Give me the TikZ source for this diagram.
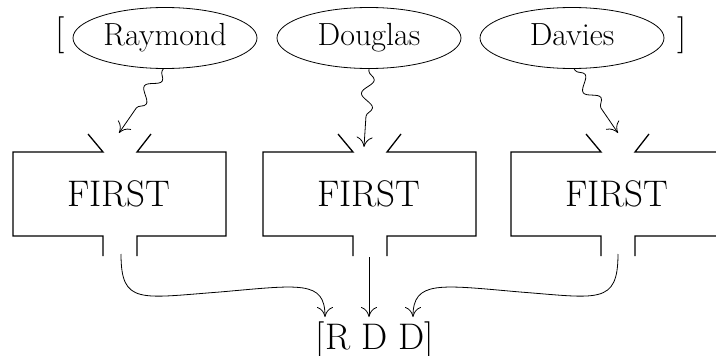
\documentclass[tikz,border=0pt]{standalone}
\usetikzlibrary{decorations.pathmorphing,arrows.meta,shapes.geometric}
\begin{document}
\begin{tikzpicture}[x=1pt,y=-1pt,
  ell/.style={draw,ellipse,line width=0.8pt,minimum width=184pt,minimum height=61pt,inner sep=0pt,
    text height=15pt,text depth=0pt,font=\fontsize{32}{36}\selectfont},
  big/.style={font=\fontsize{37}{42}\selectfont,inner sep=0pt},
  boxline/.style={line width=1.3pt,line join=miter},
  arr/.style={line width=0.8pt,-{To[length=10pt,width=16pt]}},
  snk/.style={arr,decorate,decoration={snake,segment length=28pt,amplitude=6pt,pre length=2pt,post length=20pt}}]
\useasboundingbox (0,0) rectangle (716,356);
% input names
\node[ell] (ray) at (165,38) {Raymond};
\node[ell] (dou) at (369,38) {Douglas};
\node[ell] (dav) at (572,38) {Davies};
\node[big,anchor=base] (lb) at (60,44) {[};
\node[big,anchor=base] (rb) at (682,44) {]};
% boxes
\foreach \c/\n in {120/b1,370/b2,618/b3}{
  \draw[boxline] (\c-32,134) -- (\c-17,152) -- (\c-107,152) -- (\c-107,236) -- (\c-17,236) -- (\c-17,256);
  \draw[boxline] (\c+31,134) -- (\c+17,152) -- (\c+106,152) -- (\c+106,236) -- (\c+17,236) -- (\c+17,256);
  \node[big,anchor=base] (\n) at (\c-1,206) {FIRST};
}
\coordinate (in1) at (119,133);
\coordinate (in2) at (364,147);
\coordinate (in3) at (618,133);
\coordinate (out1) at (121,254);
\coordinate (out2) at (369,257);
\coordinate (out3) at (618,254);
% output
\node[big,anchor=base] (res) at (375,349) {[R D D]};
\coordinate (t1) at (325,317);
\coordinate (t2) at (369,317);
\coordinate (t3) at (413,317);
% snake arrows
\draw[snk] (ray.-93) -- (in1);
\draw[snk] (dou.-90) -- (in2);
\draw[snk] (dav.-86) -- (in3);
% output arrows
\draw[arr] (out1) .. controls (121,305) and (140,298) .. (220,292) .. controls (300,285) and (325,280) .. (t1);
\draw[arr] (out2) -- (t2);
\draw[arr] (out3) .. controls (618,305) and (598,298) .. (520,292) .. controls (440,285) and (413,280) .. (t3);
\end{tikzpicture}
\end{document}
